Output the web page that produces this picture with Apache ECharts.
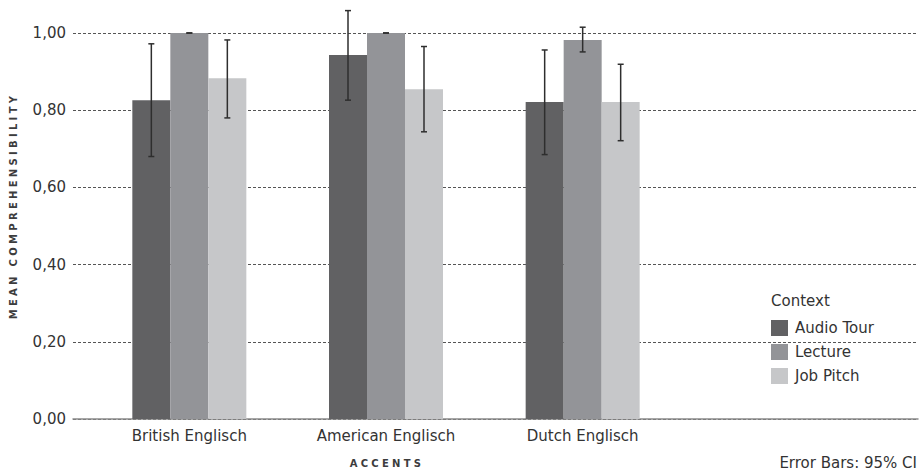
<!DOCTYPE html>
<html>
<head>
<meta charset="utf-8">
<script src="https://cdn.jsdelivr.net/npm/echarts@6/dist/echarts.min.js"></script>
<style>
  html, body { margin: 0; padding: 0; background: #ffffff; }
  #chart { width: 921px; height: 473px; }
  /* tracked-out uppercase axis titles (drawn in the title colour) */
  #chart text[fill="#3c3c3d"] { letter-spacing: 3.3px; }
</style>
</head>
<body>
<div id="chart"></div>
<script>
// Accent categories on the x axis
const categories = ['British Englisch', 'American Englisch', 'Dutch Englisch'];

// Mean comprehensibility per context
const audioTour = [0.826, 0.943, 0.821];
const lecture   = [1.000, 1.000, 0.982];
const jobPitch  = [0.883, 0.854, 0.821];

// 95% confidence interval bounds
const audioTourLow  = [0.680, 0.826, 0.685];
const audioTourHigh = [0.972, 1.058, 0.956];
const lectureLow    = [1.000, 1.000, 0.951];
const lectureHigh   = [1.000, 1.000, 1.015];
const jobPitchLow   = [0.780, 0.744, 0.721];
const jobPitchHigh  = [0.982, 0.965, 0.919];

const FONT = 'DejaVu Sans';
const TEXT = '#333333';
const TITLE = '#3c3c3d';
const colors = ['#616163', '#939498', '#c6c7c9'];
const seriesNames = ['Audio Tour', 'Lecture', 'Job Pitch'];
const values = [audioTour, lecture, jobPitch];
const lows = [audioTourLow, lectureLow, jobPitchLow];
const highs = [audioTourHigh, lectureHigh, jobPitchHigh];
const BAR_W = 38;

const chart = echarts.init(document.getElementById('chart'), null, { renderer: 'svg' });

// Whisker for one context: vertical line with caps, centred on its bar
function errorSeries(k) {
  const data = categories.map((c, i) => [i, lows[k][i], highs[k][i]]);
  return {
    type: 'custom',
    name: seriesNames[k] + ' CI',
    xAxisIndex: 1,
    yAxisIndex: 1,
    z: 10,
    clip: false,
    silent: true,
    tooltip: { show: false },
    data: data,
    renderItem: function (params, api) {
      const xi = api.value(0);
      const lo = api.coord([xi, api.value(1)]);
      const hi = api.coord([xi, api.value(2)]);
      const x = lo[0] + (k - 1) * BAR_W;
      const cap = 3;
      const style = { stroke: '#2e2e2e', lineWidth: 1.5 };
      return {
        type: 'group',
        children: [
          { type: 'line', shape: { x1: x, y1: lo[1], x2: x, y2: hi[1] }, style: style },
          { type: 'line', shape: { x1: x - cap, y1: lo[1], x2: x + cap, y2: lo[1] }, style: style },
          { type: 'line', shape: { x1: x - cap, y1: hi[1], x2: x + cap, y2: hi[1] }, style: style }
        ]
      };
    }
  };
}

const option = {
  backgroundColor: '#ffffff',
  animation: false,
  textStyle: { fontFamily: FONT },
  grid: [
    // full-width frame carrying the value axis, gridlines and baseline
    { left: 73, right: 3, top: 33, bottom: 54 },
    // narrower band holding the three accent groups
    { left: 91, width: 590, top: 33, bottom: 54 }
  ],
  xAxis: [
    {
      gridIndex: 0, type: 'value', min: 0, max: 1,
      axisLine: { show: true, onZero: false, lineStyle: { color: '#8a8a8a', width: 1.5 } },
      axisTick: { show: false }, axisLabel: { show: false }, splitLine: { show: false }
    },
    {
      gridIndex: 1, type: 'category', data: categories,
      axisLine: { show: false }, axisTick: { show: false },
      axisLabel: { color: TEXT, fontSize: 15, fontFamily: FONT, margin: 9 },
      splitLine: { show: false }
    }
  ],
  yAxis: [
    {
      gridIndex: 0, type: 'value', min: 0, max: 1, interval: 0.2,
      axisLine: { show: false }, axisTick: { show: false },
      axisLabel: {
        color: TEXT, fontSize: 15, fontFamily: FONT, margin: 7,
        formatter: v => v.toFixed(2).replace('.', ',')
      },
      splitLine: { show: true, lineStyle: { color: '#555555', type: [3, 2], width: 1 } }
    },
    {
      gridIndex: 1, type: 'value', min: 0, max: 1, interval: 0.2, show: false,
      splitLine: { show: false }
    }
  ],
  legend: {
    orient: 'vertical',
    left: 771, top: 320,
    padding: 0,
    itemWidth: 17, itemHeight: 16, itemGap: 8,
    icon: 'rect',
    data: seriesNames,
    textStyle: { color: TEXT, fontSize: 15, fontFamily: FONT, padding: [0, 0, 0, 2] },
    selectedMode: false
  },
  graphic: [
    {
      type: 'text', left: 771, top: 293,
      style: { text: 'Context', fill: TEXT, font: '15px "' + FONT + '"' }
    },
    {
      type: 'text', x: 13, y: 206, rotation: Math.PI / 2,
      style: {
        text: 'MEAN COMPREHENSIBILITY', fill: TITLE,
        font: 'bold 10px "' + FONT + '"', align: 'center', verticalAlign: 'middle'
      }
    },
    {
      type: 'text', x: 387, y: 463,
      style: {
        text: 'ACCENTS', fill: TITLE,
        font: 'bold 10px "' + FONT + '"', align: 'center', verticalAlign: 'middle'
      }
    },
    {
      type: 'text', x: 917, y: 463,
      style: {
        text: 'Error Bars: 95% CI', fill: TEXT,
        font: '15px "' + FONT + '"', align: 'right', verticalAlign: 'middle'
      }
    }
  ],
  series: [
    ...values.map((vals, k) => ({
      type: 'bar',
      name: seriesNames[k],
      xAxisIndex: 1, yAxisIndex: 1,
      barWidth: BAR_W, barGap: '0%',
      itemStyle: { color: colors[k] },
      data: vals,
      z: 2
    })),
    errorSeries(0), errorSeries(1), errorSeries(2)
  ]
};

chart.setOption(option);
</script>
</body>
</html>
